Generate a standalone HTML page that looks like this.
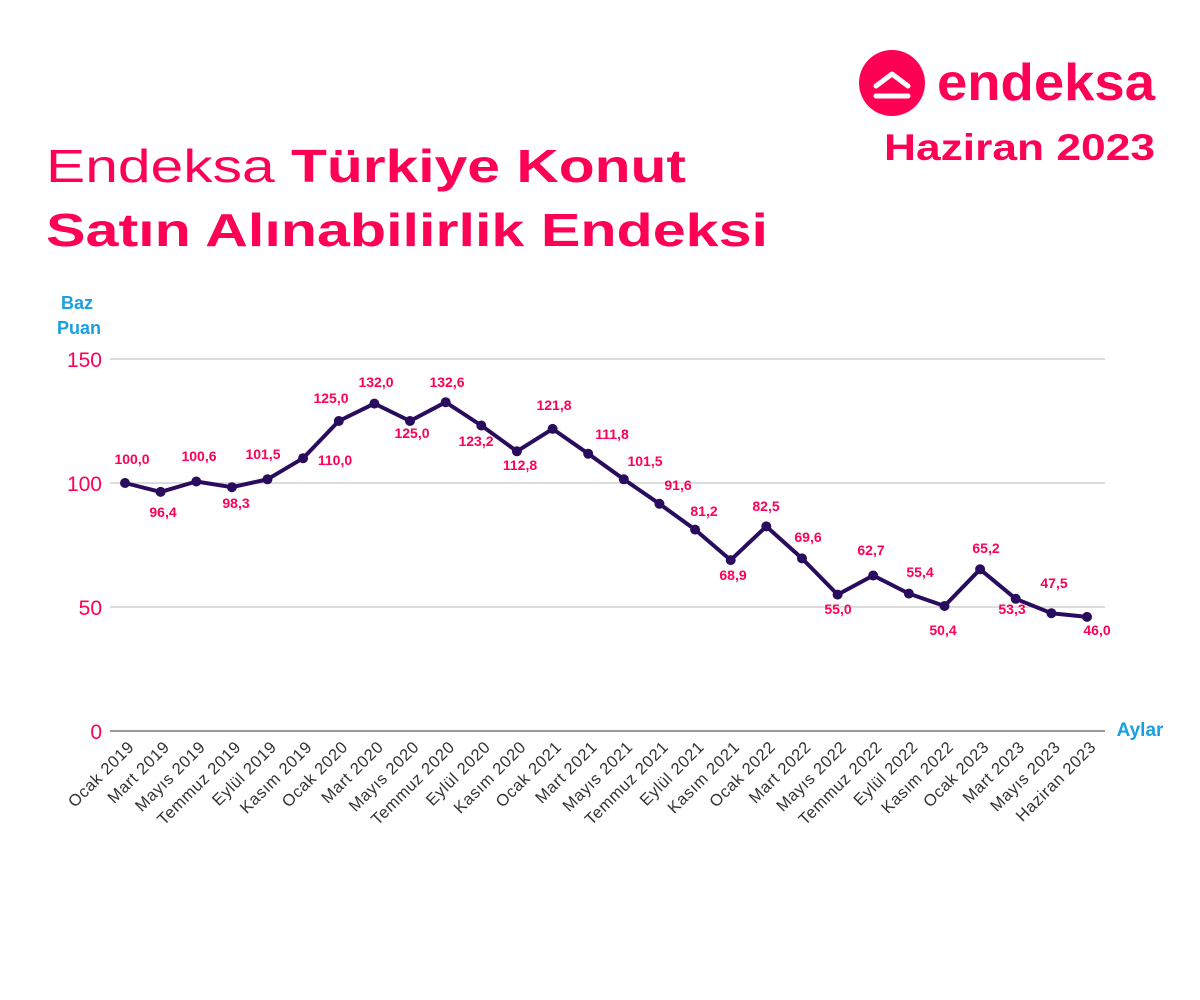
<!DOCTYPE html>
<html><head><meta charset="utf-8"><style>
body{margin:0;background:#fff;}
svg{display:block;font-family:"Liberation Sans",sans-serif;}
</style></head><body>
<svg width="1200" height="1000" viewBox="0 0 1200 1000" xmlns="http://www.w3.org/2000/svg">
<rect width="1200" height="1000" fill="#fff"/>
<!-- logo -->
<circle cx="892" cy="83" r="33" fill="#fe0054"/>
<path d="M876 86 L892 74 L908 86" stroke="#fff" stroke-width="5" fill="none" stroke-linecap="round" stroke-linejoin="round"/>
<line x1="876" y1="96" x2="908" y2="96" stroke="#fff" stroke-width="5" stroke-linecap="round"/>
<text x="937" y="100" font-size="52" fill="#fe0054" font-weight="bold" textLength="218" lengthAdjust="spacingAndGlyphs">endeksa</text>
<text x="884" y="160" font-size="37" fill="#fe0054" font-weight="bold" textLength="271" lengthAdjust="spacingAndGlyphs">Haziran 2023</text>
<!-- title -->
<text x="46" y="182" font-size="46" fill="#fe0054" textLength="640" lengthAdjust="spacingAndGlyphs">Endeksa <tspan font-weight="bold">Türkiye Konut</tspan></text>
<text x="46" y="246" font-size="46" fill="#fe0054" font-weight="bold" textLength="722" lengthAdjust="spacingAndGlyphs">Satın Alınabilirlik Endeksi</text>
<!-- axis titles -->
<text x="77" y="309" text-anchor="middle" font-size="18" font-weight="bold" fill="#1aa0e0">Baz</text>
<text x="79" y="334" text-anchor="middle" font-size="18" font-weight="bold" fill="#1aa0e0">Puan</text>
<text x="1140" y="736" text-anchor="middle" font-size="19" font-weight="bold" fill="#1aa0e0">Aylar</text>
<!-- grid -->
<g stroke="#d0d0d0" stroke-width="1.5">
<line x1="110" y1="359" x2="1105" y2="359"/>
<line x1="110" y1="483" x2="1105" y2="483"/>
<line x1="110" y1="607" x2="1105" y2="607"/>
</g>
<line x1="110" y1="731" x2="1105" y2="731" stroke="#999" stroke-width="2"/>
<g font-size="21" fill="#fe0054" text-anchor="end">
<text x="102" y="367">150</text><text x="102" y="491">100</text><text x="102" y="615">50</text><text x="102" y="739">0</text>
</g>
<g id="chart"></g>
</svg>
<script>
const vals=[100,96.4,100.6,98.3,101.5,110,125,132,125,132.6,123.2,112.8,121.8,111.8,101.5,91.6,81.2,68.9,82.5,69.6,55,62.7,55.4,50.4,65.2,53.3,47.5,46];
const lab=[[132,464],[163,517],[199,461],[236,508],[263,459],[335,465],[331,403],[376,387],[412,438],[447,387],[476,446],[520,470],[554,410],[612,439],[645,466],[678,490],[704,516],[733,580],[766,511],[808,542],[838,614],[871,555],[920,577],[943,635],[986,553],[1012,614],[1054,588],[1097,635]];
const names=["Ocak 2019","Mart 2019","Mayıs 2019","Temmuz 2019","Eylül 2019","Kasım 2019","Ocak 2020","Mart 2020","Mayıs 2020","Temmuz 2020","Eylül 2020","Kasım 2020","Ocak 2021","Mart 2021","Mayıs 2021","Temmuz 2021","Eylül 2021","Kasım 2021","Ocak 2022","Mart 2022","Mayıs 2022","Temmuz 2022","Eylül 2022","Kasım 2022","Ocak 2023","Mart 2023","Mayıs 2023","Haziran 2023"];
const X=i=>125+i*(962/27), Y=v=>731-v*2.48;
let s='<polyline fill="none" stroke="#2a0c5e" stroke-width="4" stroke-linejoin="round" points="'+vals.map((v,i)=>X(i).toFixed(1)+','+Y(v).toFixed(1)).join(' ')+'"/>';
vals.forEach((v,i)=>{
s+=`<circle cx="${X(i).toFixed(1)}" cy="${Y(v).toFixed(1)}" r="5" fill="#2a0c5e"/>`;
s+=`<text x="${lab[i][0]}" y="${lab[i][1]}" text-anchor="middle" font-size="14" font-weight="bold" fill="#fe0054">${v.toFixed(1).replace('.',',')}</text>`;
const x=X(i)+10,y=748;
s+=`<text transform="translate(${x.toFixed(1)},${y}) rotate(-45)" text-anchor="end" font-size="16.5" letter-spacing="0.6" fill="#333">${names[i]}</text>`;
});
document.getElementById('chart').innerHTML=s;
</script>
</body></html>
